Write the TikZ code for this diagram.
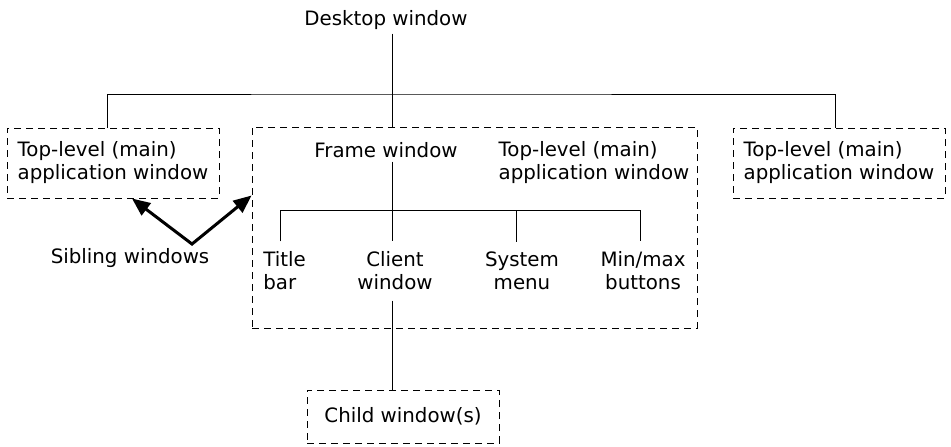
\documentclass[tikz,border=0pt]{standalone}
\usepackage{fontspec}
\newfontfamily\winfont{DejaVu Sans}
\usepackage{tikz}
\usetikzlibrary{arrows.meta, positioning}

\tikzset{
    lbl/.style={font=\winfont\fontsize{9.9}{11.5}\selectfont, inner sep=2pt},
    winbox/.style={lbl, draw, line width=0.5pt, dash pattern=on 3.5pt off 2.5pt,
        align=left},
    leaf/.style={lbl, inner xsep=0pt, inner ysep=5pt, align=center},
    link/.style={line width=0.5pt},
    sibarrow/.style={line width=1.5pt, miter limit=20,
        {Triangle[length=9pt,width=7.5pt]}-{Triangle[length=9pt,width=7.5pt]}}
}

\begin{document}
\begin{tikzpicture}[x=0.5pt, y=-0.5pt]
\useasboundingbox (0,0) rectangle (951,446);

% root
\node[lbl, anchor=base] (desk) at (386,25) {Desktop window};
\coordinate (dbus) at (392,94);

% top-level windows
\node[winbox, minimum width=106pt, minimum height=35pt] (topL) at (113,163)
    {Top-level (main)\\application window};
\node[winbox, minimum width=106pt, minimum height=35pt] (topR) at (839,163)
    {Top-level (main)\\application window};
\node[winbox, minimum width=222.5pt, minimum height=100.5pt] (frame) at (474.5,227.5) {};

% inside the middle window
\node[lbl, anchor=base] (ftxt) at (386,157) {Frame window};
\node[lbl, align=left] (topM) at (594,163) {Top-level (main)\\application window};
\coordinate (ibus) at (392,210);

\node[leaf, align=left] (title) at (284.5,271) {Title\\bar};
\node[leaf] (client) at (395,271) {Client\\window};
\node[leaf] (sysm) at (522,271) {System\\menu};
\node[leaf] (minmax) at (643,271) {Min/max\\buttons};

% child
\node[winbox, minimum width=96pt, minimum height=26.5pt] (child) at (403,416.5)
    {Child window(s)};

% sibling note
\node[lbl] (sib) at (130,258) {Sibling windows};
\coordinate (apex) at ([xshift=31pt]sib.north);

% --- connectors ---
\draw[link] ([xshift=-3pt]topL.north) |- (dbus) -| ([xshift=-2pt]topR.north);
\draw[link] (desk.south -| dbus) -- (dbus |- frame.north);

\draw[link] (ibus |- ftxt.south) -- (ibus |- client.north);
\draw[link] ([xshift=-2pt]title.north) |- (ibus) -| ([xshift=-1.5pt]minmax.north);
\draw[link] ([xshift=-3pt]sysm.north) -- ([xshift=-3pt]sysm.north |- ibus);
\draw[link] (ibus |- client.south) -- (ibus |- child.north);

\draw[sibarrow] ([xshift=9.5pt]topL.south) -- (apex) -- ([yshift=16pt]frame.west);

\end{tikzpicture}
\end{document}
